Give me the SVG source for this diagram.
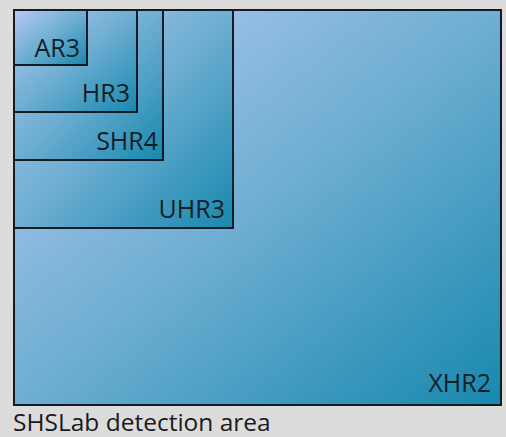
<svg xmlns="http://www.w3.org/2000/svg" width="506" height="437" viewBox="0 0 506 437">
<defs>
<linearGradient id="g" x1="0" y1="0" x2="1" y2="1">
<stop offset="0" stop-color="#b8caf4"/>
<stop offset="0.5" stop-color="#6eaed2"/>
<stop offset="1" stop-color="#1888ae"/>
</linearGradient>
<style>
.r{fill:url(#g);stroke:#131c24;stroke-width:2}
.t{font-family:"Open Sans","DejaVu Sans",sans-serif;font-size:25px;fill:#141e26;text-anchor:end}
.c{font-family:"Open Sans","DejaVu Sans",sans-serif;font-size:24.5px;fill:#1a1a1a}
</style>
</defs>
<rect width="506" height="437" fill="#dcdcdc"/>
<g id="XHR2"><rect class="r" x="14" y="10" width="487" height="395"/><text class="t" x="491" y="392">XHR2</text></g>
<g id="UHR3"><rect class="r" x="14" y="10" width="219" height="218"/><text class="t" x="225" y="218">UHR3</text></g>
<g id="SHR4"><rect class="r" x="14" y="10" width="149" height="150"/><text class="t" x="158" y="150">SHR4</text></g>
<g id="HR3"><rect class="r" x="14" y="10" width="123" height="102"/><text class="t" x="130" y="102">HR3</text></g>
<g id="AR3"><rect class="r" x="14" y="10" width="73" height="55"/><text class="t" x="80" y="57">AR3</text></g>
<g id="connectors"/>
<text class="c" x="13" y="431">SHSLab detection area</text>
</svg>
